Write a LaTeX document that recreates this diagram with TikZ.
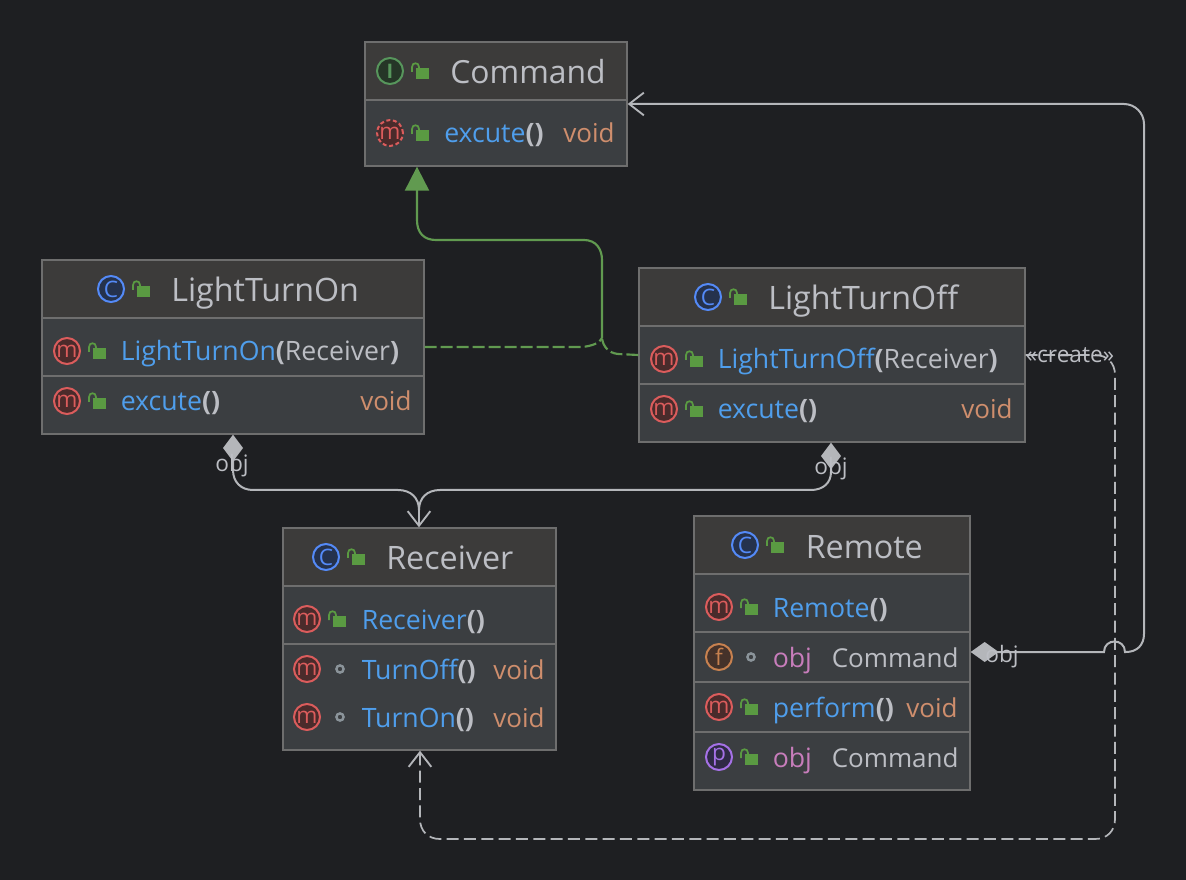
\documentclass[tikz,border=0pt]{standalone}
\usepackage{fontspec}
\setmainfont{Open Sans}
\usetikzlibrary{arrows.meta,fit}
\definecolor{bg}{HTML}{1E1F22}
\definecolor{hdr}{HTML}{3C3B3A}
\definecolor{bdy}{HTML}{3B3E41}
\definecolor{edge}{HTML}{6E6E6E}
\definecolor{fg}{HTML}{BCBEC4}
\definecolor{mname}{HTML}{4F9EEC}
\definecolor{vtype}{HTML}{CF8E6D}
\definecolor{fname}{HTML}{C77DBB}
\definecolor{lockg}{HTML}{5A9A42}
\definecolor{linkg}{HTML}{619A50}
\definecolor{linkw}{HTML}{B4B6BA}
\definecolor{imR}{HTML}{DB5C5C}\definecolor{imRf}{HTML}{4A2B2B}
\definecolor{imG}{HTML}{57965C}\definecolor{imGf}{HTML}{253627}
\definecolor{imB}{HTML}{548AF7}\definecolor{imBf}{HTML}{25324D}
\definecolor{imO}{HTML}{C7814F}\definecolor{imOf}{HTML}{45322A}
\definecolor{imP}{HTML}{A571E6}\definecolor{imPf}{HTML}{2F2A45}
\definecolor{dotg}{HTML}{8A9399}
\tikzset{
 x=0.75pt,y=-0.75pt,
 classbox/.style={draw=edge,line width=1pt,inner sep=0pt,fill=bdy},
 sepline/.style={draw=edge,line width=1.5pt},
 title/.style={anchor=base west,inner sep=0pt,text=fg,font=\fontsize{24.2}{28}\selectfont},
 member/.style={anchor=base west,inner sep=0pt,text=fg,font=\fontsize{20}{24}\selectfont},
 typed/.style={member,font=\fontsize{19.5}{24}\selectfont},
 iconc/.style={circle,minimum size=19.5pt,inner sep=0pt,line width=1.5pt,font=\fontsize{17}{17}\selectfont},
 linkwhite/.style={draw=linkw,line width=1.5pt},
 linkgreen/.style={draw=linkg,line width=1.6pt},
 dashgreen/.style={linkgreen,dash pattern=on 9pt off 3pt},
 vee/.style={-{Straight Barb[length=11pt,width=17pt,line width=1.4pt]}},
 lbl/.style={anchor=base,inner sep=0pt,text=fg,font=\fontsize{17}{20}\selectfont},
}
\newcommand{\ico}[6][]{\node[iconc,draw=#5,fill=#6,text=#5,#1] (#2) at (#3) {#4};}
\newcommand{\lck}[2]{\begin{scope}[shift={(#1,#2)}]
 \fill[lockg] (-5,-3) rectangle (7.5,8);
 \draw[lockg,line width=1.3pt] (-9,1) -- (-9,-4) .. controls (-9,-9) and (-2,-9) .. (-2,-4) -- (-2,-2);
 \end{scope}}
\newcommand{\pkd}[2]{\draw[dotg,line width=1.8pt] (#1,#2) circle (3.6);}
\newcommand{\cm}{\color{mname}}
\newcommand{\pp}{{\bfseries()}}
\begin{document}
\begin{tikzpicture}
\useasboundingbox (0,0) rectangle (1186,880);
\fill[bg] (0,0) rectangle (1186,880);
% class boxes
\node[classbox,fit={(365,42)(627,166)}] (cmd) {};
\node[classbox,fit={(42,260)(424,434)}] (on) {};
\node[classbox,fit={(639,268)(1025,442)}] (off) {};
\node[classbox,fit={(283,528)(556,750)}] (rcv) {};
\node[classbox,fit={(694,516)(970,790)}] (rem) {};
% headers
\fill[hdr] (366,43) rectangle (626,100);
\fill[hdr] (43,261) rectangle (423,318);
\fill[hdr] (640,269) rectangle (1024,326);
\fill[hdr] (284,529) rectangle (555,586);
\fill[hdr] (695,517) rectangle (969,574);
% separators
\draw[sepline] (365,100) -- (627,100);
\draw[sepline] (42,318) -- (424,318); \draw[sepline] (42,376) -- (424,376);
\draw[sepline] (639,326) -- (1025,326); \draw[sepline] (639,384) -- (1025,384);
\draw[sepline] (283,586) -- (556,586); \draw[sepline] (283,644) -- (556,644);
\draw[sepline] (694,574) -- (970,574); \draw[sepline] (694,632) -- (970,632);
\draw[sepline] (694,682) -- (970,682); \draw[sepline] (694,732) -- (970,732);
% Command
\ico{i1}{390,71}{\fontsize{15}{15}\selectfont\bfseries I}{imG}{imGf}\lck{421}{71}
\node[title,font=\fontsize{23.9}{28}\selectfont] (t1) at (450,84) {Command};
\ico[densely dashed]{i2}{390,133}{m}{imR}{imRf}\lck{421}{133}
\node[member] (t2) at (444,143) {{\cm excute}\pp};
\node[typed,text=vtype] (t3) at (563,143) {void};
% LightTurnOn
\ico{i3}{111,289}{C}{imB}{imBf}\lck{142}{289}
\node[title] (t4) at (171,302) {LightTurnOn};
\ico{i4}{67,351}{m}{imR}{imRf}\lck{98}{351}
\node[member] (t5) at (120.5,361) {{\cm LightTurnOn}{\bfseries(}Receiver{\bfseries)}};
\ico{i5}{67,401}{m}{imR}{imRf}\lck{98}{401}
\node[member] (t6) at (120.5,411) {{\cm excute}\pp};
\node[typed,text=vtype] (t7) at (360,411) {void};
% LightTurnOff
\ico{i6}{708,297}{C}{imB}{imBf}\lck{739}{297}
\node[title] (t8) at (768,310) {LightTurnOff};
\ico{i7}{664,359}{m}{imR}{imRf}\lck{695}{359}
\node[member] (t9) at (717.5,369) {{\cm LightTurnOff}{\bfseries(}Receiver{\bfseries)}};
\ico{i8}{664,409}{m}{imR}{imRf}\lck{695}{409}
\node[member] (t10) at (717.5,419) {{\cm excute}\pp};
\node[typed,text=vtype] (t11) at (961,419) {void};
% Receiver
\ico{i9}{326,557}{C}{imB}{imBf}\lck{357}{557}
\node[title] (t12) at (386,570) {Receiver};
\ico{i10}{307,619}{m}{imR}{imRf}\lck{338}{619}
\node[member] (t13) at (361.5,629) {{\cm Receiver}\pp};
\ico{i11}{307,669}{m}{imR}{imRf}\pkd{340}{669}
\node[member] (t14) at (361.5,679) {{\cm TurnOff}\pp};
\node[typed,text=vtype] (t15) at (493,679) {void};
\ico{i12}{307,717}{m}{imR}{imRf}\pkd{340}{717}
\node[member] (t16) at (361.5,727) {{\cm TurnOn}\pp};
\node[typed,text=vtype] (t17) at (493,727) {void};
% Remote
\ico{i13}{745,545}{C}{imB}{imBf}\lck{776}{545}
\node[title] (t18) at (805.5,558) {Remote};
\ico{i14}{719,607}{m}{imR}{imRf}\lck{750}{607}
\node[member] (t19) at (772.5,617) {{\cm Remote}\pp};
\ico{i15}{719,657}{f}{imO}{imOf}\pkd{751}{657}
\node[member,text=fname] (t20) at (772.5,667) {obj};
\node[typed] (t21) at (831.5,667) {Command};
\ico{i16}{719,707}{m}{imR}{imRf}\lck{750}{707}
\node[member] (t22) at (772.5,717) {{\cm perform}\pp};
\node[typed,text=vtype] (t23) at (906,717) {void};
\ico{i17}{719,757}{p}{imP}{imPf}\lck{750}{757}
\node[member,text=fname] (t24) at (772.5,767) {obj};
\node[typed] (t25) at (831.5,767) {Command};
% realization
\coordinate (merge) at (602,338);
\draw[dashgreen] (on.east|-0,347) -- (582,347) .. controls (592,346) and (600,343) .. (merge);
\draw[dashgreen] (off.west|-0,355) -- (618,354) .. controls (608,353) and (603,346) .. (merge);
\draw[linkgreen,-{Triangle[length=18pt,width=18pt,fill=linkg,sep=0pt]}] (merge) -- (602,260) .. controls (602,249) and (596,240) .. (584,240) -- (436,240) .. controls (424,240) and (417,233) .. (417,220) -- (cmd.south-|417,0);
% composition
\draw[linkwhite,{Diamond[length=20pt,width=15pt,fill=linkw]}-] (on.south-|233,0) -- (233,470) .. controls (233,482) and (241,490) .. (253,490) -- (398,490) .. controls (411,490) and (419,498) .. (419,510);
\draw[linkwhite,{Diamond[length=20pt,width=15pt,fill=linkw]}-] (off.south-|831,0) -- (831,472) .. controls (831,483) and (823,490) .. (811,490) -- (440,490) .. controls (427,490) and (419,498) .. (419,510);
\draw[linkwhite,vee] (419,510) -- (rcv.north-|419,0);
% Remote obj to Command
\draw[linkwhite,{Diamond[length=21pt,width=15pt,fill=linkw]}-{Straight Barb[length=11pt,width=17pt,line width=1.4pt]}] (rem.east|-0,652) -- (1104,652) .. controls (1104,638) and (1125,638) .. (1125,652) -- (1126,652) .. controls (1137,652) and (1144,645) .. (1144,634) -- (1144,124) .. controls (1144,113) and (1135,104) .. (1124,104) -- (cmd.east|-0,104);
% create
\draw[linkwhite,dash pattern=on 9pt off 4pt,line width=1.3pt,vee] (off.east|-0,355) -- (1095,355) .. controls (1107,355) and (1115,363) .. (1115,375) -- (1115,819) .. controls (1115,831) and (1107,839) .. (1095,839) -- (440,839) .. controls (428,839) and (420,831) .. (420,819) -- (rcv.south-|420,0);
% labels
\node[lbl] (l1) at (232,472) {obj};
\node[lbl] (l2) at (831,475) {obj};
\node[lbl] (l3) at (1002,662) {obj};
\node[lbl,font=\fontsize{17}{20}\selectfont] (l4) at (1070,363) {«create»};
\end{tikzpicture}
\end{document}
